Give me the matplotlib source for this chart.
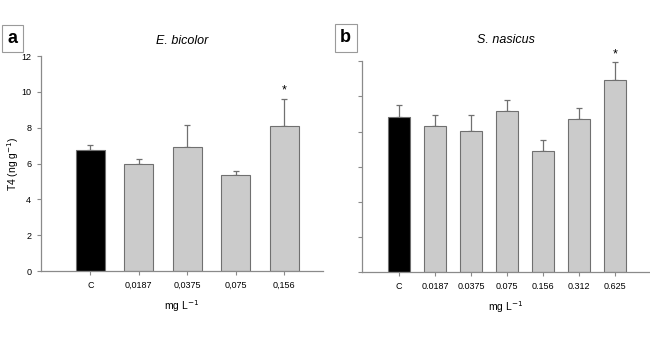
import numpy as np
import matplotlib
matplotlib.use("Agg")
import matplotlib.pyplot as plt

plt.rcParams['font.family'] = ['Liberation Sans', 'DejaVu Sans']

# panel a - E. bicolor
cats_a = ["C", "0,0187", "0,0375", "0,075", "0,156"]
mean_a = [6.75, 6.0, 6.95, 5.35, 8.1]
err_a = [0.27, 0.25, 1.2, 0.25, 1.53]

# panel b - S. nasicus
cats_b = ["C", "0.0187", "0.0375", "0.075", "0.156", "0.312", "0.625"]
mean_b = [8.85, 8.3, 8.05, 9.15, 6.9, 8.7, 10.95]
err_b = [0.65, 0.65, 0.9, 0.63, 0.63, 0.63, 1.0]

star_a = [4]
star_b = [6]

fig = plt.figure(figsize=(6.5, 3.6), dpi=100)
ax_a = fig.add_axes([0.063, 0.247, 0.434, 0.597])
ax_b = fig.add_axes([0.557, 0.244, 0.443, 0.586])

axis_col = "#8a8a8a"


def draw(ax, cats, mean, err, stars, xlim, show_ylabels):
    x = np.arange(len(cats))
    cols = ["black"] + ["#cbcbcb"] * (len(cats) - 1)
    ax.bar(x, mean, width=0.6, color=cols, edgecolor="#707070", linewidth=0.8, zorder=2)
    ax.errorbar(x, mean, yerr=[np.zeros(len(err)), err], fmt="none",
                ecolor="#707070", elinewidth=0.9, capsize=2.5, capthick=0.9, zorder=1)
    for i in stars:
        ax.text(x[i], mean[i] + err[i] + 0.12, "*", ha="center", va="bottom", fontsize=9)
    ax.set_xlim(*xlim)
    ax.set_ylim(0, 12)
    ax.set_yticks(np.arange(0, 13, 2))
    ax.set_xticks(x)
    ax.set_xticklabels(cats, fontsize=6.5)
    if show_ylabels:
        ax.tick_params(axis="y", labelsize=6.5)
    else:
        ax.set_yticklabels([])
    ax.tick_params(length=3, width=0.8, color=axis_col, pad=4)
    for s in ["top", "right"]:
        ax.spines[s].set_visible(False)
    for s in ["left", "bottom"]:
        ax.spines[s].set_color(axis_col)
        ax.spines[s].set_linewidth(0.9)
    ax.set_xlabel("mg L$^{-1}$", fontsize=7.5, labelpad=6)


draw(ax_a, cats_a, mean_a, err_a, star_a, (-1.02, 4.8), True)
draw(ax_b, cats_b, mean_b, err_b, star_b, (-1.03, 6.98), False)
ax_a.set_ylabel("T4 (ng g$^{-1}$)", fontsize=7.5)
ax_a.yaxis.set_label_coords(-0.072, 0.5)

ax_a.set_title("E. bicolor", fontsize=9, style="italic", pad=9)
ax_b.set_title("S. nasicus", fontsize=9, style="italic", pad=13)

box = dict(boxstyle="square,pad=0.3", facecolor="white", edgecolor="#9a9a9a", linewidth=0.8)
fig.text(0.019, 0.893, "a", fontsize=13, fontweight="bold", ha="center", va="center", bbox=box)
fig.text(0.532, 0.895, "b", fontsize=13, fontweight="bold", ha="center", va="center", bbox=box)

fig.savefig("out.png", dpi=100)
